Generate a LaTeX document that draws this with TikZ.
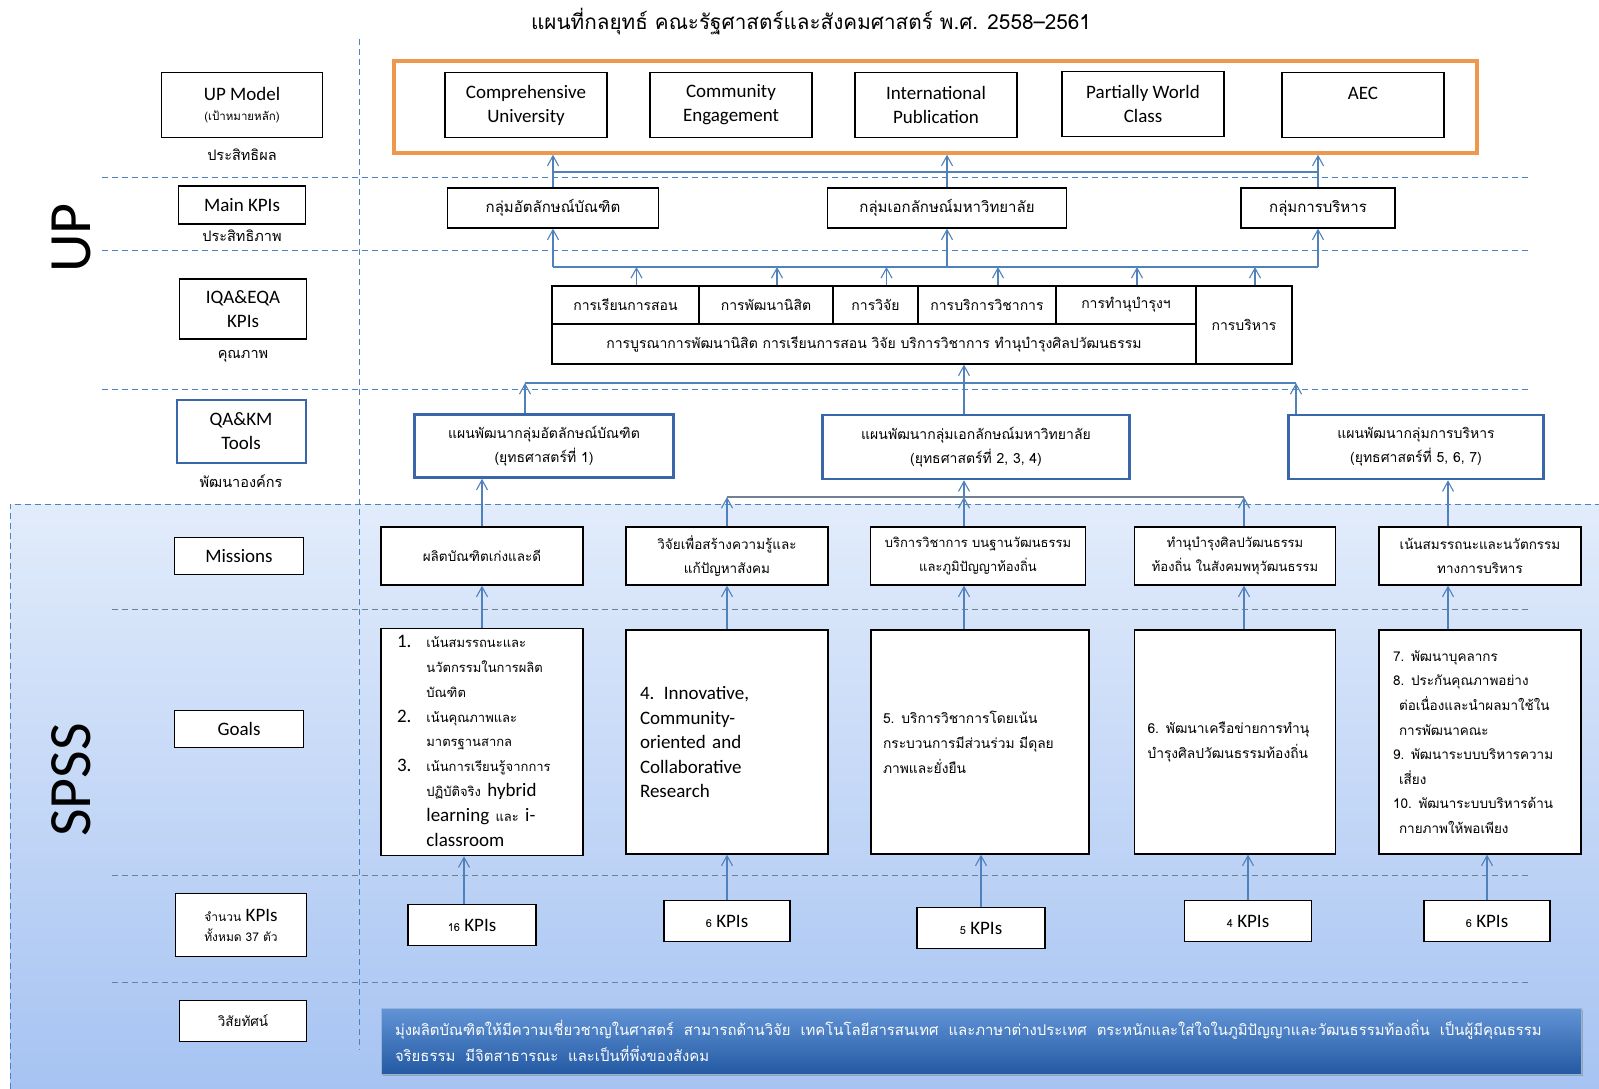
\documentclass[tikz,border=0pt]{standalone}
\usepackage{fontspec}
\setmainfont{Carlito}
\newfontfamily\thai[Script=Thai]{Loma}
\usetikzlibrary{arrows.meta,shadows}

\definecolor{upblue}{RGB}{79,129,189}
\definecolor{qablue}{RGB}{58,102,170}
\definecolor{uporange}{RGB}{238,152,78}
\definecolor{spsstop}{RGB}{226,236,251}
\definecolor{spssbot}{RGB}{166,195,242}
\definecolor{vistop}{RGB}{98,148,214}
\definecolor{visbot}{RGB}{36,90,163}

\newcommand\thsmall{\thai\fontsize{13}{24.8}\selectfont}

\tikzset{
  box/.style={draw=black, line width=1.3pt, fill=white, align=center, inner sep=2pt},
  entxt/.style={font=\fontsize{19}{24}\selectfont},
  thtxt/.style={font=\thai\fontsize{13.5}{24}\selectfont},
  qabox/.style={box, draw=qablue, line width=2.6pt},
  cell/.style={box, line width=1.2pt, font=\thai\fontsize{14}{16}\selectfont},
  goalbox/.style={box, minimum height=224pt, align=left},
  kpibox/.style={box, minimum height=41pt, font=\fontsize{19}{22}\selectfont},
  conn/.style={draw=upblue, line width=1.1pt, -{Straight Barb[length=10pt,width=11pt,line width=1.1pt]}},
  busline/.style={draw=upblue, line width=1.3pt},
  dashsep/.style={draw=upblue, line width=1pt, dash pattern=on 6pt off 4pt},
  sidelbl/.style={font=\thai\fontsize{14.5}{16}\selectfont}
}

\begin{document}
\begin{tikzpicture}[x=1pt,y=-1pt]
\useasboundingbox (0,0) rectangle (1599,1089);
\fill[white] (0,0) rectangle (1599,1089);
% SPSS zone
\shade[top color=spsstop, bottom color=spssbot] (10,504) rectangle (1599,1089);
\draw[dashsep] (10,1089) -- (10,504) -- (1599,504);
% row lines
\foreach \y in {178,250,389} \draw[dashsep] (102,\y) -- (1530,\y);
\foreach \y in {609,875,982} \draw[dashsep, draw=gray!60!upblue] (112,\y) -- (1530,\y);
\draw[dashsep] (359,39) -- (359,1050);

\node[font=\thai\fontsize{20.7}{24}\selectfont] (title) at (811,22) {แผนที่กลยุทธ์ คณะรัฐศาสตร์และสังคมศาสตร์ พ.ศ. 2558–2561};

\node[rotate=90, font=\fontsize{60}{60}\selectfont] (uplbl) at (71,238) {UP};
\node[rotate=90, font=\fontsize{60}{60}\selectfont] (spsslbl) at (71,780) {SPSS};

% left column
\node[box, entxt, minimum width=161pt, minimum height=65pt] (upmodel) at (242,105) {UP Model\\[-4pt]{\thai\fontsize{11.5}{13}\selectfont (เป้าหมายหลัก)}};
\node[sidelbl] (upmodelL) at (242,155) {ประสิทธิผล};
\node[box, entxt, minimum width=127pt, minimum height=38pt] (mainkpi) at (242,205) {Main KPIs};
\node[sidelbl] (mainkpiL) at (242,236) {ประสิทธิภาพ};
\node[box, entxt, minimum width=127pt, minimum height=60pt] (iqakpi) at (243,309) {IQA\&EQA\\KPIs};
\node[sidelbl] (iqakpiL) at (243,356) {คุณภาพ};
\node[qabox, line width=2pt, entxt, minimum width=129pt, minimum height=63pt] (qakm) at (241,431) {QA\&KM\\Tools};
\node[sidelbl] (qakmL) at (241,481) {พัฒนาองค์กร};
\node[box, entxt, minimum width=129pt, minimum height=37pt] (missions) at (239,556) {Missions};
\node[box, entxt, minimum width=129pt, minimum height=37pt] (goals) at (239,729) {Goals};
\node[box, entxt, minimum width=131pt, minimum height=63pt] (nkpi) at (241,925) {{\thai\fontsize{12}{14}\selectfont จำนวน} KPIs\\[-4pt]{\thai\fontsize{12}{14}\selectfont ทั้งหมด 37 ตัว}};
\node[box, thtxt, minimum width=127pt, minimum height=41pt] (vision) at (243,1021) {วิสัยทัศน์};

% UP model
\node[draw=uporange, line width=3.5pt, minimum width=1083pt, minimum height=92pt] (umodel) at (935.5,107) {};
\node[box, entxt, minimum width=162pt, minimum height=65pt] (comp) at (526,105) {Comprehensive\\University};
\node[box, entxt, minimum width=162pt, minimum height=65pt] (comm) at (731,105) {Community\\Engagement};
\node[box, entxt, minimum width=162pt, minimum height=65pt] (intl) at (936,105) {International\\Publication};
\node[box, entxt, minimum width=162pt, minimum height=65pt] (pwc) at (1143,104) {Partially World\\Class};
\node[box, entxt, minimum width=162pt, minimum height=65pt] (aec) at (1363,105) {AEC\\\phantom{Class}};

% main KPIs
\node[box, font=\thai\fontsize{15}{17}\selectfont, minimum width=211pt, minimum height=40pt] (mk1) at (553,208) {กลุ่มอัตลักษณ์บัณฑิต};
\node[box, font=\thai\fontsize{15}{17}\selectfont, minimum width=239pt, minimum height=40pt] (mk2) at (947,208) {กลุ่มเอกลักษณ์มหาวิทยาลัย};
\node[box, font=\thai\fontsize{15}{17}\selectfont, minimum width=154pt, minimum height=40pt] (mk3) at (1318,208) {กลุ่มการบริหาร};

% IQA & EQA table
\node[cell, minimum width=147pt, minimum height=38pt] (c1) at (625.5,305) {การเรียนการสอน};
\node[cell, minimum width=134pt, minimum height=38pt] (c2) at (766,305) {การพัฒนานิสิต};
\node[cell, minimum width=85pt, minimum height=38pt] (c3) at (875.5,305) {การวิจัย};
\node[cell, minimum width=138pt, minimum height=38pt] (c4) at (987,305) {การบริการวิชาการ};
\node[cell, minimum width=140pt, minimum height=38pt] (c5) at (1126,305) {การทำนุบำรุงฯ};
\node[cell, minimum width=96pt, minimum height=78pt] (c6) at (1244,325) {การบริหาร};
\node[cell, minimum width=644pt, minimum height=40pt] (cb) at (874,344) {การบูรณาการพัฒนานิสิต การเรียนการสอน วิจัย บริการวิชาการ ทำนุบำรุงศิลปวัฒนธรรม};

% QA & KM tools
\node[qabox, font=\thai\fontsize{14}{24}\selectfont, minimum width=259pt, minimum height=63pt] (q1) at (544,446) {แผนพัฒนากลุ่มอัตลักษณ์บัณฑิต\\(ยุทธศาสตร์ที่ 1)};
\node[qabox, font=\thai\fontsize{14}{24}\selectfont, minimum width=307pt, minimum height=64pt] (q2) at (976,447) {แผนพัฒนากลุ่มเอกลักษณ์มหาวิทยาลัย\\(ยุทธศาสตร์ที่ 2, 3, 4)};
\node[qabox, font=\thai\fontsize{14}{24}\selectfont, minimum width=255pt, minimum height=64pt] (q3) at (1416,447) {แผนพัฒนากลุ่มการบริหาร\\(ยุทธศาสตร์ที่ 5, 6, 7)};

% missions
\node[box, font=\thai\fontsize{13.5}{24}\selectfont, minimum width=202pt, minimum height=58pt] (m1) at (482,556) {ผลิตบัณฑิตเก่งและดี};
\node[box, font=\thai\fontsize{13.5}{24}\selectfont, minimum width=202pt, minimum height=58pt] (m2) at (727,556) {วิจัยเพื่อสร้างความรู้และ\\แก้ปัญหาสังคม};
\node[box, font=\thai\fontsize{13}{24}\selectfont, minimum width=215pt, minimum height=58pt] (m3) at (978,556) {บริการวิชาการ บนฐานวัฒนธรรม\\และภูมิปัญญาท้องถิ่น};
\node[box, font=\thai\fontsize{13}{24}\selectfont, minimum width=201pt, minimum height=58pt] (m4) at (1235,556) {ทำนุบำรุงศิลปวัฒนธรรม\\ท้องถิ่น ในสังคมพหุวัฒนธรรม};
\node[box, font=\thai\fontsize{13.5}{24}\selectfont, minimum width=202pt, minimum height=58pt] (m5) at (1480,556) {เน้นสมรรถนะและนวัตกรรม\\ทางการบริหาร};

% goals
\node[goalbox, minimum width=202pt, text width=170pt, font=\fontsize{19}{24.8}\selectfont] (g1) at (482,742) {%
\begin{tabular}{@{}l@{\hspace{15pt}}l@{}}
1. & \thsmall เน้นสมรรถนะและ\\
   & \thsmall นวัตกรรมในการผลิต\\
   & \thsmall บัณฑิต\\
2. & \thsmall เน้นคุณภาพและ\\
   & \thsmall มาตรฐานสากล\\
3. & \thsmall เน้นการเรียนรู้จากการ\\
   & {\thsmall ปฏิบัติจริง} hybrid\\
   & learning {\thsmall และ} i-\\
   & classroom
\end{tabular}};
\node[goalbox, minimum width=202pt, text width=174pt, font=\fontsize{19}{24.5}\selectfont] (g2) at (727,742) {4. Innovative,\\Community-\\oriented and\\Collaborative\\Research};
\node[goalbox, minimum width=218pt, text width=194pt, font=\thai\fontsize{13.8}{25}\selectfont] (g3) at (980,742) {5. บริการวิชาการโดยเน้น\\กระบวนการมีส่วนร่วม มีดุลย\\ภาพและยั่งยืน};
\node[goalbox, minimum width=201pt, text width=175pt, font=\thai\fontsize{13.8}{25}\selectfont] (g4) at (1235,742) {6. พัฒนาเครือข่ายการทำนุ\\บำรุงศิลปวัฒนธรรมท้องถิ่น};
\node[goalbox, minimum width=202pt, text width=174pt, font=\thai\fontsize{13.5}{24.6}\selectfont] (g5) at (1480,742) {7. พัฒนาบุคลากร\\8. ประกันคุณภาพอย่าง\\\hspace*{6pt}ต่อเนื่องและนำผลมาใช้ใน\\\hspace*{6pt}การพัฒนาคณะ\\9. พัฒนาระบบบริหารความ\\\hspace*{6pt}เสี่ยง\\10. พัฒนาระบบบริหารด้าน\\\hspace*{6pt}กายภาพให้พอเพียง};

% KPIs
\node[kpibox, minimum width=128pt] (k1) at (472,925) {{\thai\fontsize{11}{13}\selectfont 16} KPIs};
\node[kpibox, minimum width=126pt] (k2) at (727,921) {{\thai\fontsize{11}{13}\selectfont 6} KPIs};
\node[kpibox, minimum width=128pt] (k3) at (981,928) {{\thai\fontsize{11}{13}\selectfont 5} KPIs};
\node[kpibox, minimum width=127pt] (k4) at (1248,921) {{\thai\fontsize{11}{13}\selectfont 4} KPIs};
\node[kpibox, minimum width=126pt] (k5) at (1487,921) {{\thai\fontsize{11}{13}\selectfont 6} KPIs};

% vision
\node[draw=upblue!60!white, line width=1pt, top color=vistop, bottom color=visbot, drop shadow, minimum width=1200pt, minimum height=66pt, text width=1172pt, align=left, text=white, font=\thai\fontsize{14.9}{26}\selectfont] (visbox) at (981,1041) {มุ่งผลิตบัณฑิตให้มีความเชี่ยวชาญในศาสตร์ \ สามารถด้านวิจัย \ เทคโนโลยีสารสนเทศ \ และภาษาต่างประเทศ \ ตระหนักและใส่ใจในภูมิปัญญาและวัฒนธรรมท้องถิ่น \ เป็นผู้มีคุณธรรม\\จริยธรรม \ มีจิตสาธารณะ \ และเป็นที่พึ่งของสังคม};

% connectors
\coordinate (bustop) at (0,172);
\coordinate (busmk) at (0,267);
\coordinate (busqa) at (0,383);
\coordinate (busms) at (0,497);

\draw[busline] (mk1.north |- bustop) -- (mk3.north |- bustop);
\foreach \n in {mk1,mk2,mk3} \draw[conn] (\n.north) -- (\n.north |- umodel.south);

\draw[busline] (mk1.south |- busmk) -- (mk3.south |- busmk);
\foreach \n in {mk1,mk2,mk3} \draw[conn] (\n.south |- busmk) -- (\n.south);
\foreach \n in {c1,c2,c3,c4,c5,c6} \draw[conn] ([xshift=11pt]\n.north) -- ([xshift=11pt]\n.north |- busmk);

\draw[busline] ([xshift=-19pt]q1.north |- busqa) -- ([xshift=-120pt]q3.north |- busqa);
\draw[conn] ([xshift=-19pt]q1.north) -- ([xshift=-19pt]q1.north |- busqa);
\draw[conn] ([xshift=-12pt]q2.north) -- ([xshift=-12pt]q2.north |- cb.south);
\draw[conn] ([xshift=-120pt]q3.north) -- ([xshift=-120pt]q3.north |- busqa);

\draw[conn] (m1.north) -- (m1.north |- q1.south);
\draw[busline, draw=gray!70!upblue] (m2.north |- busms) -- ([xshift=9pt]m4.north |- busms);
\draw[conn] (m2.north) -- (m2.north |- busms);
\draw[conn] ([xshift=-14pt]m3.north) -- ([xshift=-14pt]m3.north |- busms);
\draw[conn] ([xshift=-14pt]m3.north |- busms) -- ([xshift=-14pt]m3.north |- q2.south);
\draw[conn] ([xshift=9pt]m4.north) -- ([xshift=9pt]m4.north |- busms);
\draw[conn] ([xshift=-32pt]m5.north) -- ([xshift=-32pt]m5.north |- q3.south);

\draw[conn] (g1.north) -- (g1.north |- m1.south);
\draw[conn] (g2.north) -- (g2.north |- m2.south);
\draw[conn] ([xshift=-16pt]g3.north) -- ([xshift=-16pt]g3.north |- m3.south);
\draw[conn] ([xshift=9pt]g4.north) -- ([xshift=9pt]g4.north |- m4.south);
\draw[conn] ([xshift=-32pt]g5.north) -- ([xshift=-32pt]g5.north |- m5.south);

\draw[conn] ([xshift=-8pt]k1.north) -- ([xshift=-8pt]k1.north |- g1.south);
\foreach \n/\g in {k2/g2,k3/g3,k4/g4,k5/g5} \draw[conn] (\n.north) -- (\n.north |- \g.south);
\end{tikzpicture}
\end{document}
